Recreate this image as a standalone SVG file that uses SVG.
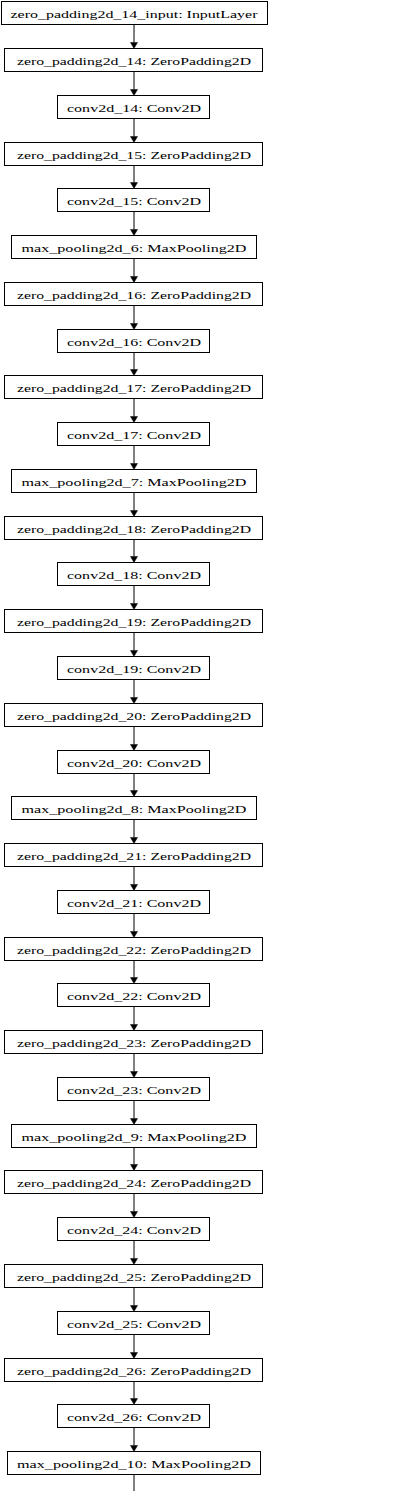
<svg xmlns="http://www.w3.org/2000/svg" width="410" height="1491" viewBox="0 0 410 1491">
<style>
.b{fill:#fff;stroke:#000;stroke-width:1}
.t{font-family:"Liberation Serif","Times New Roman",serif;font-size:11px;fill:#000;text-anchor:middle}
.e{stroke:#000;stroke-width:1;fill:none}
.h{fill:#000;stroke:#000;stroke-width:0.5}
</style>
<rect width="410" height="1491" fill="#fff"/>
<g id="connectors">
<path class="e" d="M134 24.5V42.5M134 71.5V89.5M134 118.5V136.5M134 165.5V182.5M134 211.5V229.5M134 258.5V276.5M134 305.5V323.5M134 352.5V369.5M134 398.5V416.5M134 445.5V463.5M134 492.5V510.5M134 539.5V556.5M134 585.5V603.5M134 632.5V650.5M134 679.5V697.5M134 726.5V744.5M134 773.5V790.5M134 819.5V837.5M134 866.5V884.5M134 913.5V931.5M134 960.5V977.5M134 1006.5V1024.5M134 1053.5V1071.5M134 1100.5V1118.5M134 1147.5V1164.5M134 1193.5V1211.5M134 1240.5V1258.5M134 1287.5V1305.5M134 1334.5V1352.5M134 1381.5V1398.5M134 1427.5V1445.5M134 1474.5V1491"/>
<g class="h">
<polygon points="130.5,42.5 137.5,42.5 134,48.5"/>
<polygon points="130.5,89.5 137.5,89.5 134,95.5"/>
<polygon points="130.5,136.5 137.5,136.5 134,142.5"/>
<polygon points="130.5,182.5 137.5,182.5 134,188.5"/>
<polygon points="130.5,229.5 137.5,229.5 134,235.5"/>
<polygon points="130.5,276.5 137.5,276.5 134,282.5"/>
<polygon points="130.5,323.5 137.5,323.5 134,329.5"/>
<polygon points="130.5,369.5 137.5,369.5 134,375.5"/>
<polygon points="130.5,416.5 137.5,416.5 134,422.5"/>
<polygon points="130.5,463.5 137.5,463.5 134,469.5"/>
<polygon points="130.5,510.5 137.5,510.5 134,516.5"/>
<polygon points="130.5,556.5 137.5,556.5 134,562.5"/>
<polygon points="130.5,603.5 137.5,603.5 134,609.5"/>
<polygon points="130.5,650.5 137.5,650.5 134,656.5"/>
<polygon points="130.5,697.5 137.5,697.5 134,703.5"/>
<polygon points="130.5,744.5 137.5,744.5 134,750.5"/>
<polygon points="130.5,790.5 137.5,790.5 134,796.5"/>
<polygon points="130.5,837.5 137.5,837.5 134,843.5"/>
<polygon points="130.5,884.5 137.5,884.5 134,890.5"/>
<polygon points="130.5,931.5 137.5,931.5 134,937.5"/>
<polygon points="130.5,977.5 137.5,977.5 134,983.5"/>
<polygon points="130.5,1024.5 137.5,1024.5 134,1030.5"/>
<polygon points="130.5,1071.5 137.5,1071.5 134,1077.5"/>
<polygon points="130.5,1118.5 137.5,1118.5 134,1124.5"/>
<polygon points="130.5,1164.5 137.5,1164.5 134,1170.5"/>
<polygon points="130.5,1211.5 137.5,1211.5 134,1217.5"/>
<polygon points="130.5,1258.5 137.5,1258.5 134,1264.5"/>
<polygon points="130.5,1305.5 137.5,1305.5 134,1311.5"/>
<polygon points="130.5,1352.5 137.5,1352.5 134,1358.5"/>
<polygon points="130.5,1398.5 137.5,1398.5 134,1404.5"/>
<polygon points="130.5,1445.5 137.5,1445.5 134,1451.5"/>
</g>
</g>
<g id="n0"><rect class="b" x="1.5" y="1.5" width="266" height="23"/><text class="t" x="134" y="17.5" textLength="247" lengthAdjust="spacingAndGlyphs">zero_padding2d_14_input: InputLayer</text></g>
<g id="n1"><rect class="b" x="4.5" y="48.5" width="258" height="23"/><text class="t" x="134" y="64.5" textLength="234" lengthAdjust="spacingAndGlyphs">zero_padding2d_14: ZeroPadding2D</text></g>
<g id="n2"><rect class="b" x="57.5" y="95.5" width="152" height="23"/><text class="t" x="134" y="111.5" textLength="134" lengthAdjust="spacingAndGlyphs">conv2d_14: Conv2D</text></g>
<g id="n3"><rect class="b" x="4.5" y="142.5" width="258" height="23"/><text class="t" x="134" y="158.5" textLength="234" lengthAdjust="spacingAndGlyphs">zero_padding2d_15: ZeroPadding2D</text></g>
<g id="n4"><rect class="b" x="57.5" y="188.5" width="152" height="23"/><text class="t" x="134" y="204.5" textLength="134" lengthAdjust="spacingAndGlyphs">conv2d_15: Conv2D</text></g>
<g id="n5"><rect class="b" x="11.5" y="235.5" width="245" height="23"/><text class="t" x="134" y="251.5" textLength="225" lengthAdjust="spacingAndGlyphs">max_pooling2d_6: MaxPooling2D</text></g>
<g id="n6"><rect class="b" x="4.5" y="282.5" width="258" height="23"/><text class="t" x="134" y="298.5" textLength="234" lengthAdjust="spacingAndGlyphs">zero_padding2d_16: ZeroPadding2D</text></g>
<g id="n7"><rect class="b" x="57.5" y="329.5" width="152" height="23"/><text class="t" x="134" y="345.5" textLength="134" lengthAdjust="spacingAndGlyphs">conv2d_16: Conv2D</text></g>
<g id="n8"><rect class="b" x="4.5" y="375.5" width="258" height="23"/><text class="t" x="134" y="391.5" textLength="234" lengthAdjust="spacingAndGlyphs">zero_padding2d_17: ZeroPadding2D</text></g>
<g id="n9"><rect class="b" x="57.5" y="422.5" width="152" height="23"/><text class="t" x="134" y="438.5" textLength="134" lengthAdjust="spacingAndGlyphs">conv2d_17: Conv2D</text></g>
<g id="n10"><rect class="b" x="11.5" y="469.5" width="245" height="23"/><text class="t" x="134" y="485.5" textLength="225" lengthAdjust="spacingAndGlyphs">max_pooling2d_7: MaxPooling2D</text></g>
<g id="n11"><rect class="b" x="4.5" y="516.5" width="258" height="23"/><text class="t" x="134" y="532.5" textLength="234" lengthAdjust="spacingAndGlyphs">zero_padding2d_18: ZeroPadding2D</text></g>
<g id="n12"><rect class="b" x="57.5" y="562.5" width="152" height="23"/><text class="t" x="134" y="578.5" textLength="134" lengthAdjust="spacingAndGlyphs">conv2d_18: Conv2D</text></g>
<g id="n13"><rect class="b" x="4.5" y="609.5" width="258" height="23"/><text class="t" x="134" y="625.5" textLength="234" lengthAdjust="spacingAndGlyphs">zero_padding2d_19: ZeroPadding2D</text></g>
<g id="n14"><rect class="b" x="57.5" y="656.5" width="152" height="23"/><text class="t" x="134" y="672.5" textLength="134" lengthAdjust="spacingAndGlyphs">conv2d_19: Conv2D</text></g>
<g id="n15"><rect class="b" x="4.5" y="703.5" width="258" height="23"/><text class="t" x="134" y="719.5" textLength="234" lengthAdjust="spacingAndGlyphs">zero_padding2d_20: ZeroPadding2D</text></g>
<g id="n16"><rect class="b" x="57.5" y="750.5" width="152" height="23"/><text class="t" x="134" y="766.5" textLength="134" lengthAdjust="spacingAndGlyphs">conv2d_20: Conv2D</text></g>
<g id="n17"><rect class="b" x="11.5" y="796.5" width="245" height="23"/><text class="t" x="134" y="812.5" textLength="225" lengthAdjust="spacingAndGlyphs">max_pooling2d_8: MaxPooling2D</text></g>
<g id="n18"><rect class="b" x="4.5" y="843.5" width="258" height="23"/><text class="t" x="134" y="859.5" textLength="234" lengthAdjust="spacingAndGlyphs">zero_padding2d_21: ZeroPadding2D</text></g>
<g id="n19"><rect class="b" x="57.5" y="890.5" width="152" height="23"/><text class="t" x="134" y="906.5" textLength="134" lengthAdjust="spacingAndGlyphs">conv2d_21: Conv2D</text></g>
<g id="n20"><rect class="b" x="4.5" y="937.5" width="258" height="23"/><text class="t" x="134" y="953.5" textLength="234" lengthAdjust="spacingAndGlyphs">zero_padding2d_22: ZeroPadding2D</text></g>
<g id="n21"><rect class="b" x="57.5" y="983.5" width="152" height="23"/><text class="t" x="134" y="999.5" textLength="134" lengthAdjust="spacingAndGlyphs">conv2d_22: Conv2D</text></g>
<g id="n22"><rect class="b" x="4.5" y="1030.5" width="258" height="23"/><text class="t" x="134" y="1046.5" textLength="234" lengthAdjust="spacingAndGlyphs">zero_padding2d_23: ZeroPadding2D</text></g>
<g id="n23"><rect class="b" x="57.5" y="1077.5" width="152" height="23"/><text class="t" x="134" y="1093.5" textLength="134" lengthAdjust="spacingAndGlyphs">conv2d_23: Conv2D</text></g>
<g id="n24"><rect class="b" x="11.5" y="1124.5" width="245" height="23"/><text class="t" x="134" y="1140.5" textLength="225" lengthAdjust="spacingAndGlyphs">max_pooling2d_9: MaxPooling2D</text></g>
<g id="n25"><rect class="b" x="4.5" y="1170.5" width="258" height="23"/><text class="t" x="134" y="1186.5" textLength="234" lengthAdjust="spacingAndGlyphs">zero_padding2d_24: ZeroPadding2D</text></g>
<g id="n26"><rect class="b" x="57.5" y="1217.5" width="152" height="23"/><text class="t" x="134" y="1233.5" textLength="134" lengthAdjust="spacingAndGlyphs">conv2d_24: Conv2D</text></g>
<g id="n27"><rect class="b" x="4.5" y="1264.5" width="258" height="23"/><text class="t" x="134" y="1280.5" textLength="234" lengthAdjust="spacingAndGlyphs">zero_padding2d_25: ZeroPadding2D</text></g>
<g id="n28"><rect class="b" x="57.5" y="1311.5" width="152" height="23"/><text class="t" x="134" y="1327.5" textLength="134" lengthAdjust="spacingAndGlyphs">conv2d_25: Conv2D</text></g>
<g id="n29"><rect class="b" x="4.5" y="1358.5" width="258" height="23"/><text class="t" x="134" y="1374.5" textLength="234" lengthAdjust="spacingAndGlyphs">zero_padding2d_26: ZeroPadding2D</text></g>
<g id="n30"><rect class="b" x="57.5" y="1404.5" width="152" height="23"/><text class="t" x="134" y="1420.5" textLength="134" lengthAdjust="spacingAndGlyphs">conv2d_26: Conv2D</text></g>
<g id="n31"><rect class="b" x="7.5" y="1451.5" width="253" height="23"/><text class="t" x="134" y="1467.5" textLength="234" lengthAdjust="spacingAndGlyphs">max_pooling2d_10: MaxPooling2D</text></g>
</svg>
